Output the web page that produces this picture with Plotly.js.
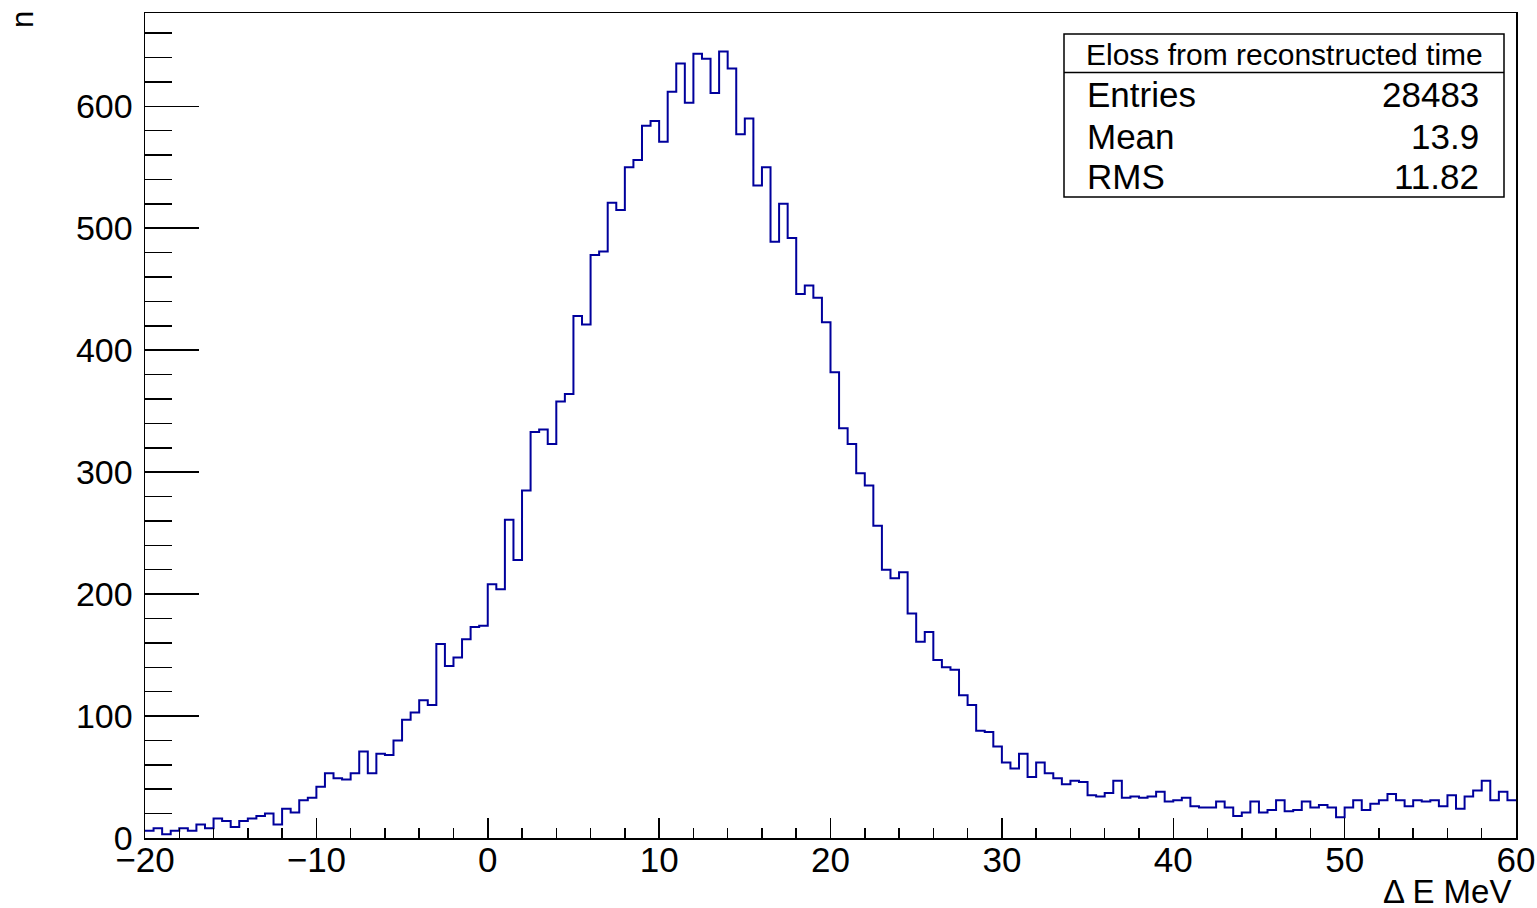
<!DOCTYPE html>
<html>
<head>
<meta charset="utf-8">
<script src="https://cdn.plot.ly/plotly-3.0.1.min.js"></script>
<style>
html,body{margin:0;padding:0;background:#fff;}
#chart{width:1537px;height:908px;}
</style>
</head>
<body>
<div id="chart"></div>
<script>
// Histogram definition
var binLow = -20;
var binWidth = 0.5;
var counts = [
  6, 8, 3, 6, 8, 6, 11, 8, 16, 14, 9, 14, 16, 18, 20, 11, 24, 21, 31, 33,
  42, 53, 49, 48, 53, 71, 53, 69, 68, 80, 97, 103, 113, 109, 159, 141, 148, 163, 173, 174,
  208, 204, 261, 228, 285, 333, 335, 323, 358, 364,
  428, 421, 478, 481, 521, 515, 550, 556, 584, 588,
  571, 612, 635, 603, 643, 639, 611, 645, 631, 577,
  590, 535, 550, 489, 520, 492, 446, 453, 443, 423,
  382, 336, 323, 299, 289, 256, 220, 213, 218, 184,
  161, 169, 146, 140, 138, 117, 109, 88, 87, 75,
  62, 57, 69, 50, 62, 53, 49, 44, 47, 46,
  35, 34, 37, 47, 33, 34, 33, 34, 38, 30,
  31, 33, 26, 25, 25, 30, 25, 18, 21, 30,
  21, 23, 31, 22, 23, 30, 25, 27, 25, 17,
  25, 31, 23, 28, 31, 36, 31, 26, 31, 30,
  31, 26, 35, 24, 34, 39, 47, 31, 38, 31
];
var statTitle = "Eloss from reconstructed time";
var statNames = ["Entries", "Mean", "RMS"];
var statValues = ["28483", "13.9", "11.82"];
var xTitle = "\u0394 E MeV";
var yTitle = "n";

// build step outline from bin edges
var xs = [], ys = [];
for (var i = 0; i < counts.length; i++) {
  xs.push(binLow + i * binWidth);
  ys.push(counts[i]);
}
xs.push(binLow + counts.length * binWidth);
ys.push(counts[counts.length - 1]);

var F = '"Liberation Sans", Arial, Helvetica, sans-serif';

var trace = {
  x: xs, y: ys, type: 'scatter', mode: 'lines',
  line: {shape: 'hv', color: '#00009c', width: 2},
  hoverinfo: 'skip', showlegend: false
};

// pixel helpers (plot area: x 145..1516, y 13..838)
var L = 145, R = 1516, T = 13, B = 838;
function px(x) { return (x - L) / (R - L); }
function py(y) { return (B - y) / (B - T); }

var annotations = [
  {text: statTitle, x: px(1284), y: py(55), xref: 'paper', yref: 'paper', xanchor: 'center', yanchor: 'middle', showarrow: false, font: {family: F, size: 30, color: '#000'}},
  {text: xTitle, x: px(1513), y: py(891), xref: 'paper', yref: 'paper', xanchor: 'right', yanchor: 'middle', showarrow: false, font: {family: F, size: 33, color: '#000'}},
  {text: yTitle, x: px(22), y: py(19), xref: 'paper', yref: 'paper', xanchor: 'center', yanchor: 'middle', textangle: -90, showarrow: false, font: {family: F, size: 31, color: '#000'}}
];
var rowY = [95, 137, 177];
for (var k = 0; k < statNames.length; k++) {
  annotations.push({text: statNames[k], x: px(1085), y: py(rowY[k]), xref: 'paper', yref: 'paper', xanchor: 'left', yanchor: 'middle', showarrow: false, font: {family: F, size: 35, color: '#000'}});
  annotations.push({text: statValues[k], x: px(1481), y: py(rowY[k]), xref: 'paper', yref: 'paper', xanchor: 'right', yanchor: 'middle', showarrow: false, font: {family: F, size: 35, color: '#000'}});
}

var layout = {
  width: 1537, height: 908,
  margin: {l: L, r: 1537 - R, t: T, b: 908 - B, pad: 0},
  paper_bgcolor: '#fff', plot_bgcolor: '#fff',
  showlegend: false,
  xaxis: {
    range: [-20, 60], tick0: -20, dtick: 10, ticks: 'inside', ticklen: 20, tickwidth: 1.5, tickcolor: '#000',
    minor: {dtick: 2, ticks: 'inside', ticklen: 10, tickwidth: 1.5, tickcolor: '#000', showgrid: false},
    showgrid: false, zeroline: false, showline: true, linecolor: '#000', linewidth: 1.5, mirror: true,
    tickfont: {family: F, size: 35, color: '#000'}, ticklabelstandoff: -10, ticklabeloverflow: 'allow'
  },
  yaxis: {
    range: [0, 676.5], tick0: 0, dtick: 100, ticks: 'inside', ticklen: 54, tickwidth: 1.5, tickcolor: '#000',
    minor: {dtick: 20, ticks: 'inside', ticklen: 27, tickwidth: 1.5, tickcolor: '#000', showgrid: false},
    showgrid: false, zeroline: false, showline: true, linecolor: '#000', linewidth: 1.5, mirror: true,
    tickfont: {family: F, size: 34, color: '#000'}, ticklabelstandoff: 4, ticklabeloverflow: 'allow'
  },
  shapes: [
    {type: 'rect', xref: 'paper', yref: 'paper', x0: px(1064), x1: px(1504), y0: py(197), y1: py(34), line: {color: '#000', width: 1.5}, fillcolor: '#fff', layer: 'above'},
    {type: 'line', xref: 'paper', yref: 'paper', x0: px(1064), x1: px(1504), y0: py(72.5), y1: py(72.5), line: {color: '#000', width: 1.5}, layer: 'above'}
  ],
  annotations: annotations
};

Plotly.newPlot('chart', [trace], layout, {staticPlot: true, displayModeBar: false});
</script>
</body>
</html>
